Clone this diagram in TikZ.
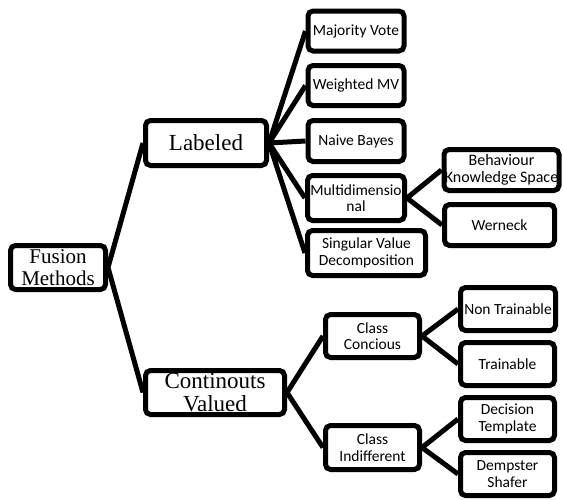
\documentclass[tikz,border=0pt]{standalone}
\usepackage{fontspec}
\setmainfont{Liberation Serif}
\newfontfamily\calib{Carlito}
\begin{document}
\begin{tikzpicture}[x=1pt,y=-1pt,
  box/.style={draw=black,line width=5pt,rounded corners=5pt,fill=white,inner sep=0pt,align=center},
  bigbox/.style={box,font=\fontsize{23}{23}\selectfont},
  fmbox/.style={box,font=\fontsize{21}{21.5}\selectfont},
  smallbox/.style={box,font=\calib\fontsize{15.5}{16.5}\selectfont},
  link/.style={draw=black,line width=5pt,line join=round}]
\useasboundingbox (0,0) rectangle (563,499);
\node[fmbox,minimum width=95,minimum height=44] (fm) at (58,267.5) {Fusion\\Methods};
\node[bigbox,minimum width=121,minimum height=45] (lab) at (206,143) {Labeled};
\node[bigbox,minimum width=139,minimum height=44] (cv) at (215,392.5) {Continouts\\Valued};
\node[smallbox,minimum width=96,minimum height=40] (mv) at (356,31) {Majority Vote};
\node[smallbox,minimum width=96,minimum height=40] (wmv) at (356,85.5) {Weighted MV};
\node[smallbox,minimum width=96,minimum height=41] (nb) at (356,141) {Naive Bayes};
\node[smallbox,minimum width=97,minimum height=45] (md) at (356,198) {Multidimensio\\nal};
\node[smallbox,minimum width=118,minimum height=45] (svd) at (366.5,253) {Singular Value\\Decomposition};
\node[smallbox,minimum width=115,minimum height=41,font=\calib\fontsize{16}{17}\selectfont] (bks) at (501.5,170) {Behaviour\\Knowledge Space};
\node[smallbox,minimum width=110,minimum height=41] (wer) at (499.5,225) {Werneck};
\node[smallbox,minimum width=94,minimum height=43] (cc) at (372.5,336) {Class\\Concious};
\node[smallbox,minimum width=95,minimum height=43] (nt) at (508,309) {Non Trainable};
\node[smallbox,minimum width=94,minimum height=43] (tr) at (507.5,364) {Trainable};
\node[smallbox,minimum width=94,minimum height=44] (ci) at (372.5,447.5) {Class\\Indifferent};
\node[smallbox,minimum width=94,minimum height=43] (dt) at (507.5,419) {Decision\\Template};
\node[smallbox,minimum width=94,minimum height=43] (ds) at (507.5,474) {Dempster\\Shafer};
\path[link] (fm.east) -- (lab.west) (fm.east) -- (cv.west);
\path[link] (lab.east) -- (mv.west) (lab.east) -- (wmv.west) (lab.east) -- (nb.west) (lab.east) -- (md.west) (lab.east) -- (svd.west);
\path[link] (md.east) -- (bks.west) (md.east) -- (wer.west);
\path[link] (cv.east) -- (cc.west) (cv.east) -- (ci.west);
\path[link] (cc.east) -- (nt.west) (cc.east) -- (tr.west);
\path[link] (ci.east) -- (dt.west) (ci.east) -- (ds.west);
\end{tikzpicture}
\end{document}
